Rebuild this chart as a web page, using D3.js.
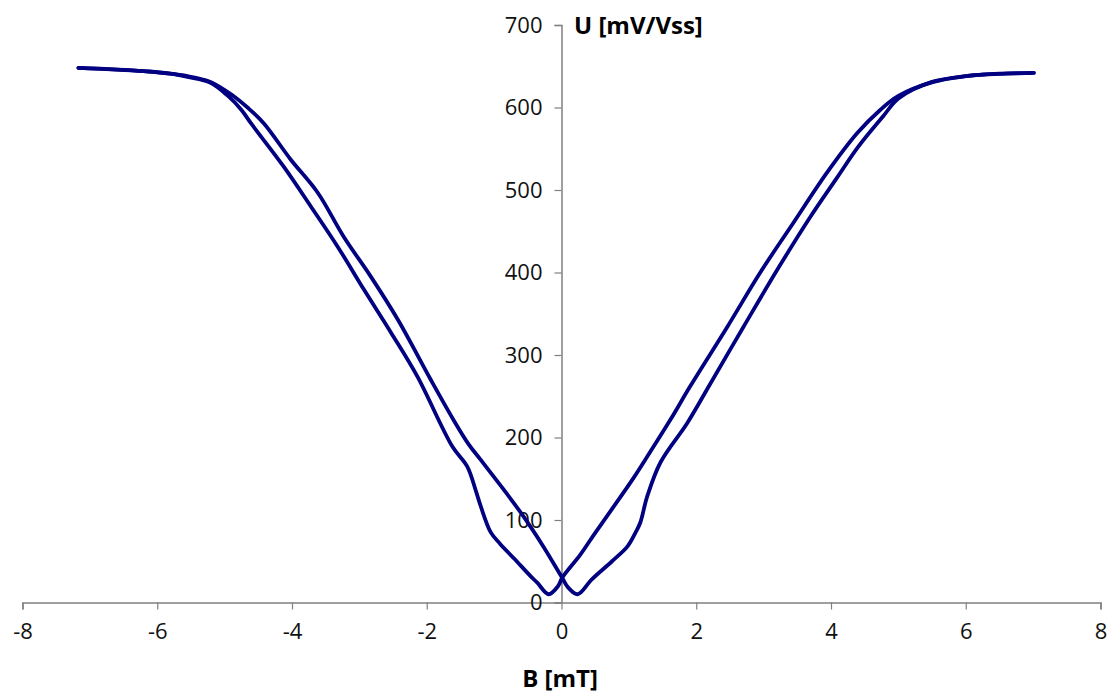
<!DOCTYPE html>
<html>
<head>
<meta charset="utf-8">
<script src="https://cdn.jsdelivr.net/npm/d3@7"></script>
<style>
  html, body { margin: 0; padding: 0; background: #fff; }
  svg { display: block; }
</style>
</head>
<body>
<svg id="chart" width="1118" height="693"></svg>
<script>
// Branch 1: from -B saturation down the outer left curve, through the left minimum, up the inner right curve
const branch1B = [-7.17, -6.6, -6.2, -5.8, -5.55, -5.21, -4.95, -4.75, -4.61, -4.12, -3.72, -3.32, -2.93, -2.53, -2.14, -1.62, -1.40, -1.27, -1.20, -1.05, -0.91, -0.70, -0.46, -0.36, -0.19, -0.05, 0.01, 0.28, 0.48, 0.73, 1.07, 1.32, 1.62, 1.91, 2.46, 2.95, 3.44, 3.94, 4.39, 4.73, 5.0, 5.52, 6.0, 6.27, 6.6, 7.01];
const branch1U = [648, 646, 644, 641, 637, 630, 614, 597, 581, 528, 480, 431, 379, 327, 274, 189, 165, 135, 117, 85, 71, 53, 32, 24, 10, 20, 30, 58, 82, 111, 151, 183, 222, 262, 334, 400, 460, 521, 569, 597, 614, 631, 638, 640, 641, 642];

// Branch 2: from +B saturation down the outer right curve, through the right minimum, up the inner left curve
const branch2B = [7.01, 6.5, 6.0, 5.5, 5.0, 4.78, 4.40, 4.09, 3.69, 3.20, 2.70, 2.2, 1.87, 1.47, 1.27, 1.17, 1.10, 0.98, 0.75, 0.45, 0.24, 0.10, 0.01, -0.27, -0.57, -0.86, -1.21, -1.38, -1.60, -1.94, -2.43, -2.83, -3.23, -3.62, -4.02, -4.42, -4.66, -4.87, -5.21, -5.55, -6.2, -7.17];
const branch2U = [642, 641, 638, 631, 611, 590, 552, 515, 467, 403, 334, 264, 218, 170, 128, 97, 85, 68, 50, 28, 10, 18, 30, 68, 105, 137, 174, 192, 221, 270, 343, 395, 443, 497, 537, 581, 600, 614, 631, 638, 644, 648];

const xTicks = [-8, -6, -4, -2, 0, 2, 4, 6, 8];
const yTicks = [0, 100, 200, 300, 400, 500, 600, 700];
const xTitle = "B [mT]";
const yTitle = "U [mV/Vss]";

const svg = d3.select("#chart");
const x = d3.scaleLinear().domain([-8, 8]).range([22.5, 1100.5]);
const y = d3.scaleLinear().domain([0, 700]).range([602.5, 25]);
const axisColor = "#808080";
const font = "'Open Sans', 'Noto Sans', sans-serif";
const fmt = d => String(d);

// X axis (at U = 0)
const xAxis = svg.append("g").attr("transform", `translate(0,${y(0)})`)
  .call(d3.axisBottom(x).tickValues(xTicks).tickSize(7).tickPadding(14).tickFormat(fmt));
xAxis.select(".domain").attr("stroke", axisColor).attr("stroke-width", 1.5);
xAxis.selectAll(".tick line").attr("stroke", axisColor).attr("stroke-width", 1.2);
xAxis.selectAll(".tick text").attr("fill", "#111").style("font-family", font).style("font-size", "22px");

// Y axis (at B = 0)
const yAxis = svg.append("g").attr("transform", `translate(${x(0)},0)`)
  .call(d3.axisLeft(y).tickValues(yTicks).tickSize(7).tickPadding(12).tickFormat(fmt));
yAxis.select(".domain").attr("stroke", axisColor).attr("stroke-width", 1.5);
yAxis.selectAll(".tick line").attr("stroke", axisColor).attr("stroke-width", 1.2);
yAxis.selectAll(".tick text").attr("fill", "#111").style("font-family", font).style("font-size", "22px");

// Titles
svg.append("text").attr("x", 560).attr("y", 687).attr("text-anchor", "middle")
  .style("font-family", font).style("font-size", "24px").style("font-weight", "bold").attr("fill", "#000").text(xTitle);
svg.append("text").attr("x", 574).attr("y", 34).attr("text-anchor", "start")
  .style("font-family", font).style("font-size", "24px").style("font-weight", "bold").attr("fill", "#000").text(yTitle);

// Curves
const line = d3.line().x(d => x(d[0])).y(d => y(d[1])).curve(d3.curveCatmullRom.alpha(0.5));
const b1 = branch1B.map((v, i) => [v, branch1U[i]]);
const b2 = branch2B.map((v, i) => [v, branch2U[i]]);
[b1, b2].forEach(pts => {
  svg.append("path").datum(pts).attr("d", line)
    .attr("fill", "none").attr("stroke", "#000080").attr("stroke-width", 3.8)
    .attr("stroke-linejoin", "round").attr("stroke-linecap", "round");
});
</script>
</body>
</html>
